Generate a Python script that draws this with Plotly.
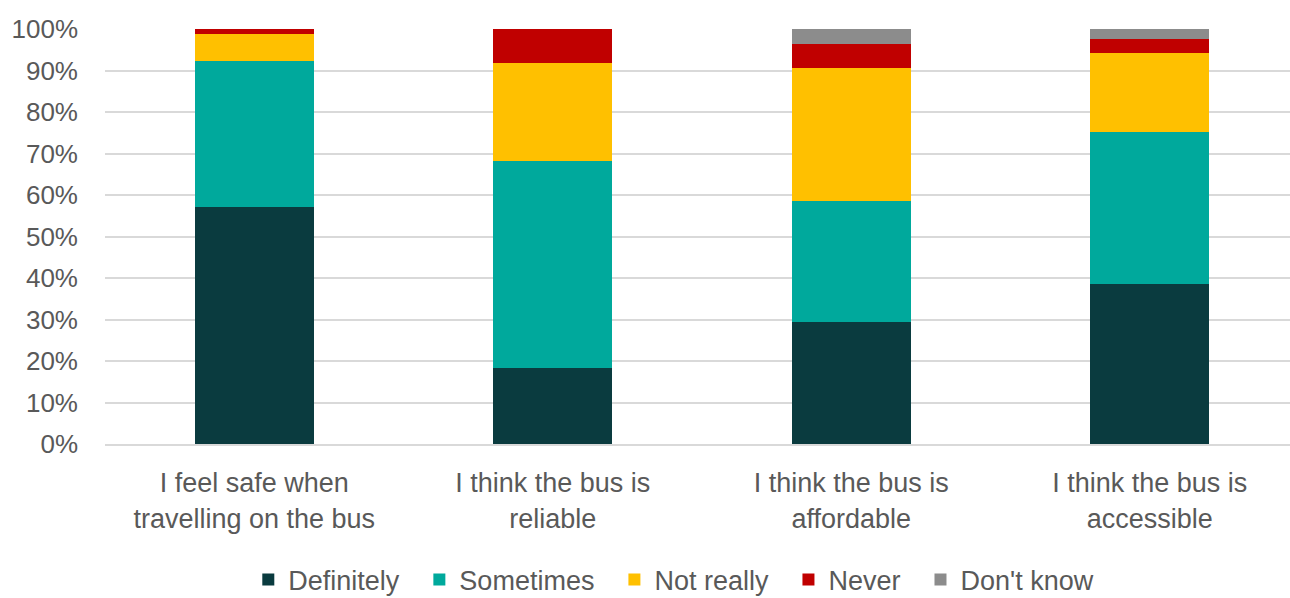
import plotly.graph_objects as go

categories = ["I feel safe when<br>travelling on the bus",
              "I think the bus is<br>reliable",
              "I think the bus is<br>affordable",
              "I think the bus is<br>accessible"]
legend_names = ["Definitely", "Sometimes", "Not really", "Never", "Don't know"]
definitely = [0.570, 0.183, 0.294, 0.385]
sometimes = [0.353, 0.498, 0.291, 0.368]
not_really = [0.064, 0.238, 0.321, 0.189]
never = [0.013, 0.081, 0.057, 0.034]
dont_know = [0.000, 0.000, 0.037, 0.024]

values = [definitely, sometimes, not_really, never, dont_know]
colors = ["#0A3B3F", "#00A99C", "#FFC000", "#C00000", "#8C8C8C"]

FONT = "Liberation Sans, Arial, sans-serif"
fig = go.Figure()
for i, (name, vals, col) in enumerate(zip(legend_names, values, colors)):
    pad = "\u00a0\u00a0" if i < len(legend_names) - 1 else ""
    fig.add_trace(go.Bar(x=list(range(len(categories))), y=vals, name=name + pad,
                         marker=dict(color=col, line=dict(width=0)), width=0.40))

fig.update_layout(
    width=1290, height=598,
    barmode="stack",
    paper_bgcolor="white", plot_bgcolor="white",
    margin=dict(l=105, r=0, t=29, b=154),
    font=dict(family=FONT, size=26, color="#595959"),
    showlegend=True,
    legend=dict(orientation="h", x=0.48, xanchor="center",
                yref="container", y=0.03, yanchor="middle",
                traceorder="normal", font=dict(size=27, color="#595959"),
                itemwidth=30, itemsizing="constant"),
    xaxis=dict(tickmode="array", tickvals=list(range(len(categories))), ticktext=categories,
               range=[-0.5, 3.47], showgrid=False, zeroline=False,
               showline=True, linecolor="#D9D9D9", linewidth=2,
               ticks="", ticklabelstandoff=14, tickfont=dict(size=27, color="#595959")),
    yaxis=dict(range=[0, 1], tickformat=".0%", dtick=0.1, showgrid=True,
               gridcolor="#D9D9D9", gridwidth=2, zeroline=False, showline=False,
               ticks="", ticklabelstandoff=26, tickfont=dict(size=26, color="#595959")),
)
fig.write_html("out.html")
